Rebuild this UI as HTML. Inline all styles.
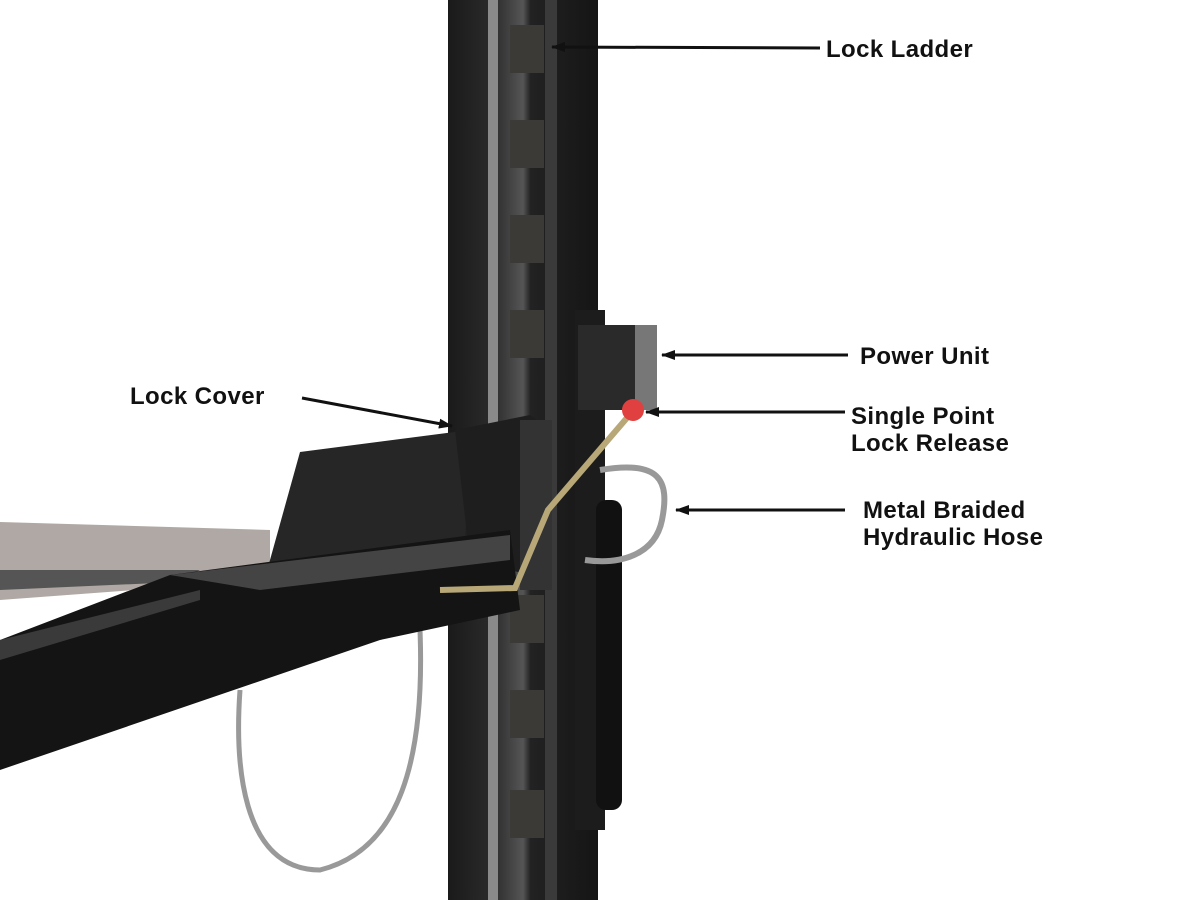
<!DOCTYPE html>
<html><head><meta charset="utf-8"><style>
html,body{margin:0;padding:0;background:#fff;}
svg{display:block}
text{font-family:"Liberation Sans",sans-serif;font-weight:bold;font-size:24px;letter-spacing:0.4px;fill:#111;}
</style></head><body>
<svg width="1200" height="900" viewBox="0 0 1200 900" xmlns="http://www.w3.org/2000/svg">
<defs>
<marker id="ah" markerWidth="14" markerHeight="10" refX="13" refY="5" orient="auto" markerUnits="userSpaceOnUse">
<path d="M0,0 L14,5 L0,10 Z" fill="#111"/></marker>
<linearGradient id="col" x1="0" x2="1">
<stop offset="0" stop-color="#1a1a1a"/><stop offset="0.3" stop-color="#2b2b2b"/><stop offset="0.5" stop-color="#555"/><stop offset="0.55" stop-color="#222"/><stop offset="1" stop-color="#151515"/></linearGradient>
</defs>
<rect width="1200" height="900" fill="#fff"/>
<rect x="448" y="0" width="150" height="900" fill="url(#col)"/>
<rect x="488" y="0" width="10" height="900" fill="#8a8a8a"/>
<rect x="545" y="0" width="12" height="900" fill="#3a3a3a"/>
<g fill="#3c3a36">
<rect x="510" y="25" width="34" height="48"/><rect x="510" y="120" width="34" height="48"/>
<rect x="510" y="215" width="34" height="48"/><rect x="510" y="310" width="34" height="48"/>
<rect x="510" y="595" width="34" height="48"/><rect x="510" y="690" width="34" height="48"/>
<rect x="510" y="790" width="34" height="48"/>
</g>
<rect x="575" y="310" width="30" height="520" fill="#1c1c1c"/>
<rect x="596" y="500" width="26" height="310" rx="10" fill="#111"/>
<rect x="578" y="325" width="78" height="85" fill="#2a2a2a"/>
<rect x="635" y="325" width="22" height="85" fill="#777"/>
<path d="M600 470 C660 460 670 480 662 520 C655 555 620 565 585 560" stroke="#999" stroke-width="6" fill="none"/>
<path d="M420 630 C425 760 400 850 320 870 C240 870 235 760 240 690" stroke="#999" stroke-width="5" fill="none"/>
<polygon points="0,522 270,530 270,580 0,600" fill="#b0a8a4"/>
<polygon points="0,570 200,570 180,582 0,590" fill="#555"/>
<polygon points="300,452 470,430 465,545 265,578" fill="#262626"/>
<polygon points="455,430 530,415 550,430 550,580 470,560" fill="#1e1e1e"/>
<rect x="520" y="420" width="32" height="170" fill="#333"/>
<polygon points="0,640 170,575 510,530 520,610 380,640 0,770" fill="#141414"/>
<polygon points="170,575 510,535 510,560 260,590" fill="#444"/>
<polygon points="0,640 200,590 200,600 0,660" fill="#3a3a3a"/>
<path d="M632 412 L548 510 L515 588 L440 590" stroke="#b8a878" stroke-width="6" fill="none"/>
<circle cx="633" cy="410" r="11" fill="#e04040"/>
<g stroke="#111" stroke-width="3">
<line x1="820" y1="48" x2="552" y2="47" marker-end="url(#ah)"/>
<line x1="848" y1="355" x2="662" y2="355" marker-end="url(#ah)"/>
<line x1="845" y1="412" x2="646" y2="412" marker-end="url(#ah)"/>
<line x1="845" y1="510" x2="676" y2="510" marker-end="url(#ah)"/>
<line x1="302" y1="398" x2="452" y2="426" marker-end="url(#ah)"/>
</g>
<text x="826" y="57">Lock Ladder</text>
<text x="860" y="364">Power Unit</text>
<text x="851" y="424">Single Point</text>
<text x="851" y="451">Lock Release</text>
<text x="863" y="518">Metal Braided</text>
<text x="863" y="545">Hydraulic Hose</text>
<text x="130" y="404">Lock Cover</text>
</svg>
</body></html>
